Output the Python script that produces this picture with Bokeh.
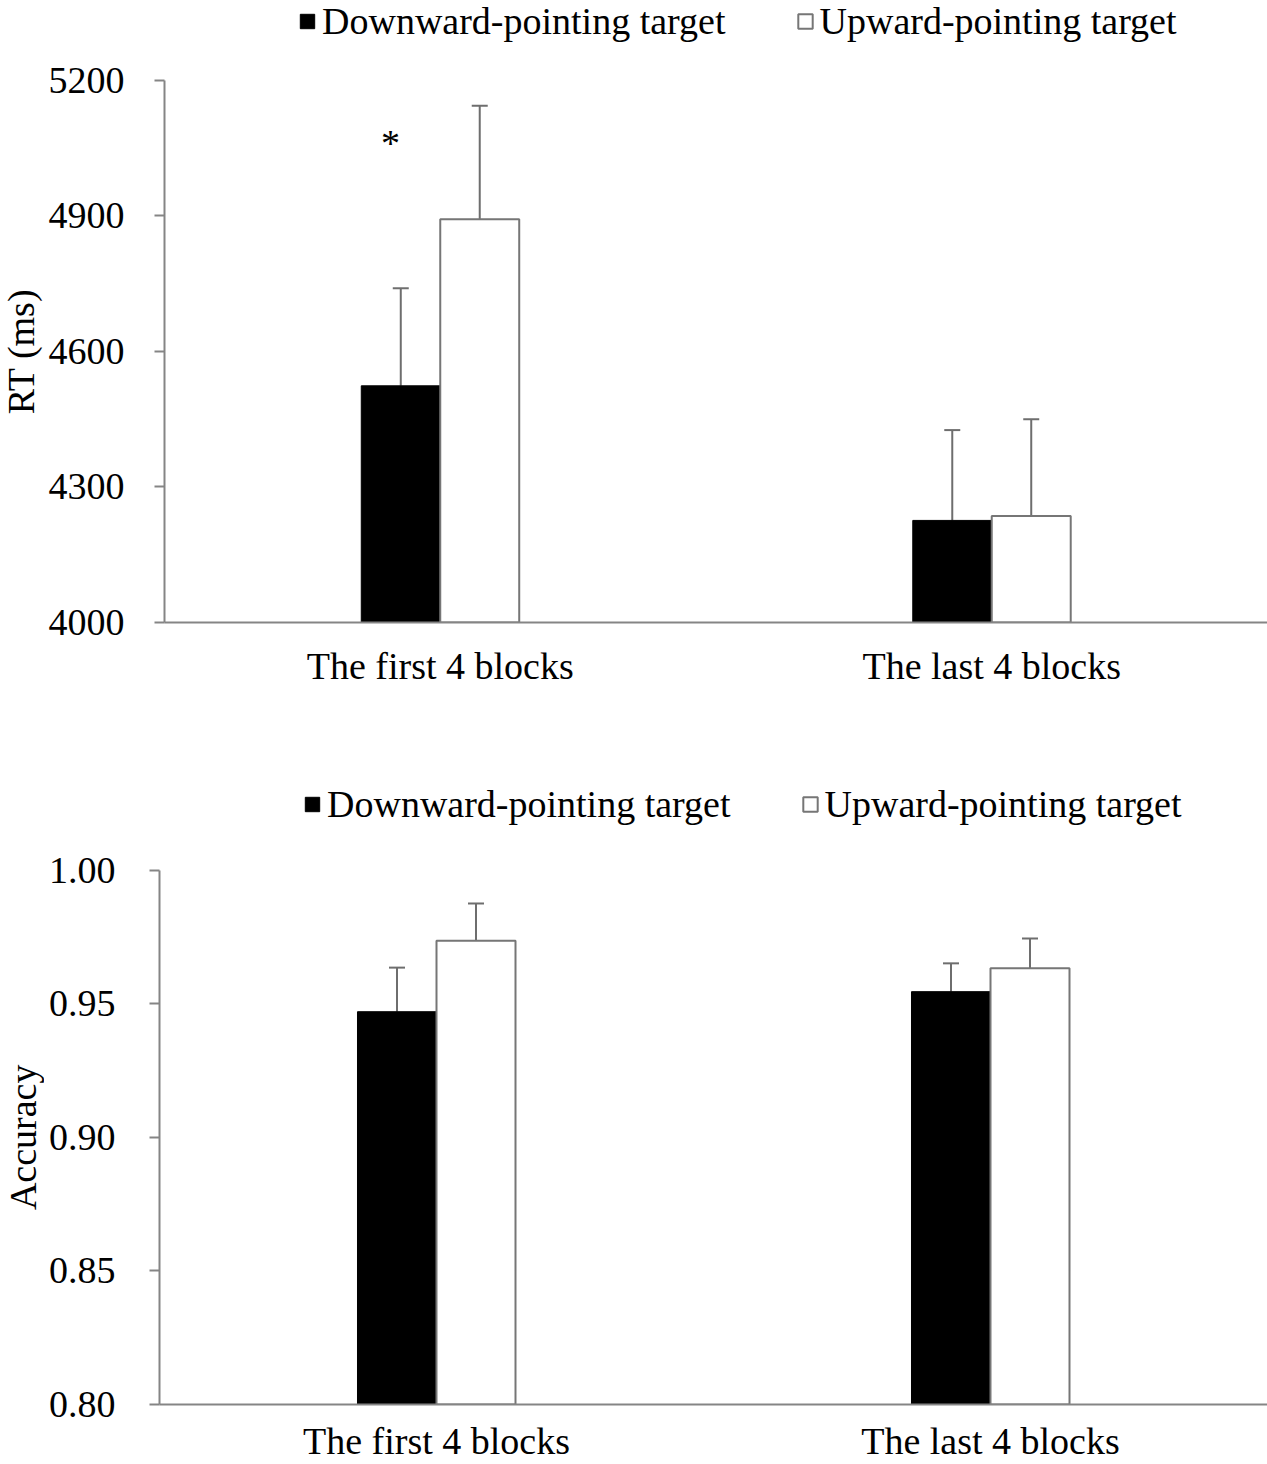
import math
from bokeh.plotting import figure
from bokeh.models import (Range1d, FactorRange, ColumnDataSource, Whisker, TeeHead,
                          Legend, LegendItem, FixedTicker, PrintfTickFormatter)
from bokeh.transform import dodge
from bokeh.layouts import column, row
from bokeh.embed import file_html
from bokeh.resources import INLINE
from bokeh.core.properties import value

# ---------------- data ----------------
blocks = ["The first 4 blocks", "The last 4 blocks"]
series = ["Downward-pointing target", "Upward-pointing target"]

rt_down = [4524, 4226]
rt_down_err = [216, 200]
rt_up = [4893, 4236]
rt_up_err = [251, 214]
rt_ticks = [4000, 4300, 4600, 4900, 5200]

acc_down = [0.947, 0.9545]
acc_down_err = [0.0165, 0.0106]
acc_up = [0.9736, 0.9633]
acc_up_err = [0.0139, 0.0111]
acc_ticks = [0.80, 0.85, 0.90, 0.95, 1.00]

sig_block = [blocks[0]]
sig_text = ["*"]
sig_y = [5061]

FONT = "Liberation Serif"
FS = "38px"
AXIS_COL = "#858585"
ERR_COL = "#6e6e6e"
OUT_COL = "#767676"
LW = 44  # width of the strip holding the y-axis title


def panel(down, down_err, up, up_err, ticks, ylabel, height, frame_left, border_bottom,
          y_end, bar_w, label_x, legend_loc, x_standoff, y_standoff, fmt=None):
    y0, y1 = ticks[0], ticks[-1]
    yr = Range1d(y0, y_end)

    # strip with the rotated y-axis title
    lab = figure(width=LW, height=height, x_range=Range1d(0, LW), y_range=yr,
                 x_axis_location=None, y_axis_location=None,
                 output_backend="svg", toolbar_location=None,
                 min_border_left=0, min_border_right=0, min_border_top=0,
                 min_border_bottom=border_bottom)
    lab.outline_line_color = None
    lab.grid.visible = False
    lab.text(x=[label_x], y=[(y0 + y1) / 2], text=[ylabel], angle=math.pi / 2,
             text_font=value(FONT), text_font_size=FS, text_align="center",
             text_baseline="middle", text_color="black")

    p = figure(width=1267 - LW, height=height,
               x_range=FactorRange(*blocks), y_range=yr,
               output_backend="svg", toolbar_location=None,
               min_border_left=frame_left - LW, min_border_right=0,
               min_border_top=0, min_border_bottom=border_bottom)
    p.outline_line_color = None
    p.xgrid.visible = False
    p.ygrid.visible = False

    src = ColumnDataSource(dict(
        block=blocks,
        down=down,
        up=up,
        down_hi=[v + e for v, e in zip(down, down_err)],
        up_hi=[v + e for v, e in zip(up, up_err)],
    ))
    off = bar_w / 2
    r_down = p.vbar(x=dodge("block", -off, range=p.x_range), top="down", bottom=y0,
                    width=bar_w, source=src, fill_color="black", line_color="black",
                    line_width=1)
    r_up = p.vbar(x=dodge("block", off, range=p.x_range), top="up", bottom=y0,
                  width=bar_w, source=src, fill_color="white", line_color=OUT_COL,
                  line_width=2)

    for col, hi, o in (("down", "down_hi", -off), ("up", "up_hi", off)):
        w = Whisker(base=dodge("block", o, range=p.x_range), lower=col, upper=hi,
                    source=src, line_color=ERR_COL, line_width=2,
                    upper_head=TeeHead(size=16, line_color=ERR_COL, line_width=2),
                    lower_head=None)
        p.add_layout(w)

    ya = p.yaxis[0]
    ya.ticker = FixedTicker(ticks=ticks)
    if fmt:
        ya.formatter = PrintfTickFormatter(format=fmt)
    ya.bounds = (y0, y1)
    ya.axis_line_color = AXIS_COL
    ya.axis_line_width = 2
    ya.major_tick_line_color = AXIS_COL
    ya.major_tick_line_width = 2
    ya.major_tick_out = 10
    ya.major_tick_in = 0
    ya.minor_tick_out = 0
    ya.minor_tick_in = 0
    ya.major_label_text_font = FONT
    ya.major_label_text_font_size = FS
    ya.major_label_text_color = "black"
    ya.major_label_standoff = y_standoff

    xa = p.xaxis[0]
    xa.axis_line_color = AXIS_COL
    xa.axis_line_width = 2
    xa.major_tick_out = 0
    xa.major_tick_in = 0
    xa.minor_tick_out = 0
    xa.minor_tick_in = 0
    xa.major_label_text_font = FONT
    xa.major_label_text_font_size = FS
    xa.major_label_text_color = "black"
    xa.major_label_standoff = x_standoff

    legend = Legend(items=[LegendItem(label=series[0], renderers=[r_down]),
                           LegendItem(label=series[1], renderers=[r_up])],
                    orientation="horizontal", location=legend_loc,
                    glyph_width=18, glyph_height=18, label_standoff=6, spacing=70,
                    padding=0, margin=0, border_line_color=None,
                    background_fill_alpha=0, label_text_font=FONT,
                    label_text_font_size=FS, label_text_color="black")
    p.add_layout(legend)
    return lab, p


lab_top, top = panel(rt_down, rt_down_err, rt_up, rt_up_err, rt_ticks, "RT (ms)",
                     height=740, frame_left=164, border_bottom=118, y_end=5377.1,
                     bar_w=0.1432, label_x=20, legend_loc=(134, 579),
                     x_standoff=22, y_standoff=30)
sig = ColumnDataSource(dict(block=sig_block, y=sig_y, t=sig_text))
top.text(x=dodge("block", -0.09, range=top.x_range), y="y", text="t", source=sig,
         text_font=value(FONT), text_font_size=FS, text_align="center",
         text_baseline="alphabetic", text_color="black")

lab_bot, bottom = panel(acc_down, acc_down_err, acc_up, acc_up_err, acc_ticks, "Accuracy",
                        height=724, frame_left=159, border_bottom=58, y_end=1.0485,
                        bar_w=0.1426, label_x=22, legend_loc=(144, 578),
                        x_standoff=15, y_standoff=34, fmt="%.2f")

layout = column(row(lab_top, top, spacing=0), row(lab_bot, bottom, spacing=0), spacing=0)
open("out.html", "w").write(file_html(layout, INLINE))
